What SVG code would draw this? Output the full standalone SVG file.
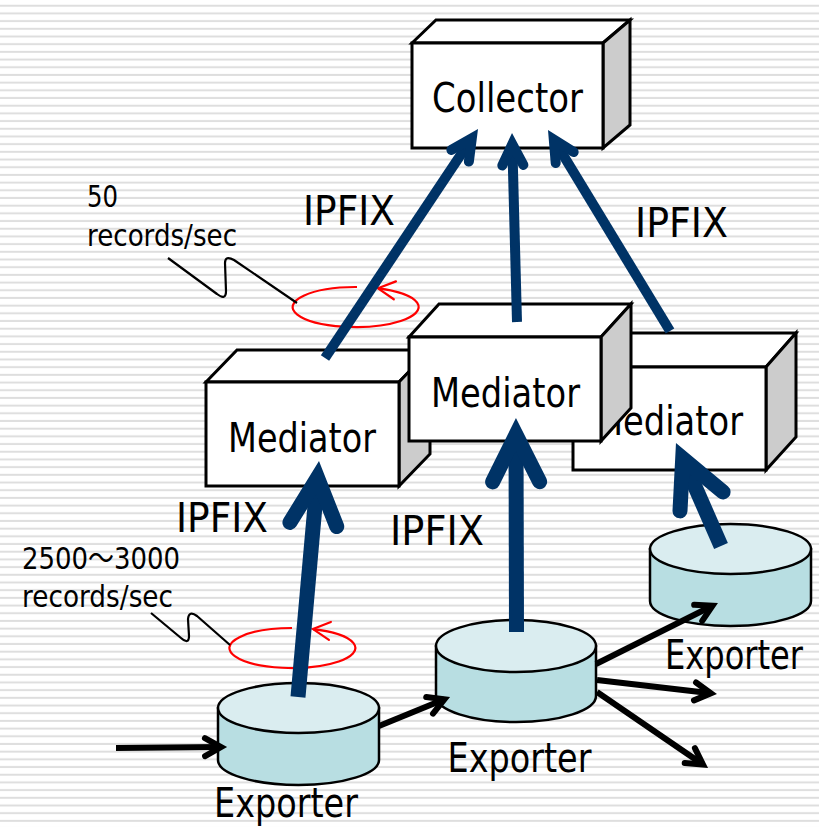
<svg xmlns="http://www.w3.org/2000/svg" width="819" height="827" viewBox="0 0 819 827">
<style>
.box{stroke:#000;stroke-width:3;stroke-linejoin:miter}
.front{fill:#fff}.top{fill:#fff}.side{fill:#cccccc}
.cylb{fill:#b8dee2;stroke:#000;stroke-width:2.5}
.cylt{fill:#daedf0;stroke:#000;stroke-width:2.5}
.lbl{font-family:"DejaVu Sans","Noto Sans CJK JP",sans-serif;fill:#000;text-anchor:middle}
.big{font-size:40px}.small{font-size:31px}
.up{fill:none;stroke:#003366;stroke-width:10;marker-end:url(#navyS)}
.low{fill:none;stroke:#003366;stroke-width:15;marker-end:url(#navyL)}
.blk{fill:none;stroke:#000;stroke-width:6;marker-end:url(#blk)}
.red{fill:none;stroke:#ff0000;stroke-width:2.2;marker-end:url(#redm)}
.sq{fill:none;stroke:#000;stroke-width:2.2;stroke-linejoin:round}
</style>
<defs>
<pattern id="stripes" width="10" height="7.69" patternUnits="userSpaceOnUse">
<rect x="0" y="4.7" width="10" height="2" fill="#dedede"/>
</pattern>
<marker id="navyS" markerUnits="userSpaceOnUse" orient="auto" refX="0" refY="0" markerWidth="1" markerHeight="1" overflow="visible">
<path d="M-21,-10.5 L0,0 L-21,10.5" fill="none" stroke="#003366" stroke-width="10" stroke-linecap="round" stroke-linejoin="miter"/>
</marker>
<marker id="navyL" markerUnits="userSpaceOnUse" orient="auto" refX="0" refY="0" markerWidth="1" markerHeight="1" overflow="visible">
<path d="M-47,-23.5 L0,0 L-47,23.5" fill="none" stroke="#003366" stroke-width="15" stroke-linecap="round" stroke-linejoin="miter"/>
</marker>
<marker id="blk" markerUnits="userSpaceOnUse" orient="auto" refX="0" refY="0" markerWidth="1" markerHeight="1" overflow="visible">
<path d="M-16,-9 L0,0 L-16,9" fill="none" stroke="#000" stroke-width="6" stroke-linecap="round" stroke-linejoin="miter"/>
</marker>
<marker id="redm" markerUnits="userSpaceOnUse" orient="auto" refX="0" refY="0" markerWidth="1" markerHeight="1" overflow="visible">
<path d="M-17,-9 L0,0 L-17,9" fill="none" stroke="#ff0000" stroke-width="2.2" stroke-linecap="round" stroke-linejoin="miter"/>
</marker>
</defs>
<rect width="819" height="827" fill="#fff"/>
<rect width="819" height="827" fill="url(#stripes)"/>

<g id="collector">
<polygon class="box top" points="412,43 436,20 630,20 603,43"/>
<polygon class="box side" points="603,43 630,20 630,125 603,148"/>
<rect class="box front" x="412" y="43" width="191" height="105"/>
<text class="lbl big" x="507.5" y="112" textLength="151" lengthAdjust="spacingAndGlyphs">Collector</text>
</g>

<g id="mediator-left">
<polygon class="box top" points="206,382 237,350 430,350 399,382"/>
<polygon class="box side" points="399,382 430,350 430,454 399,486"/>
<rect class="box front" x="206" y="382" width="193" height="104"/>
<text class="lbl big" x="302" y="452" textLength="148" lengthAdjust="spacingAndGlyphs">Mediator</text>
</g>

<g id="mediator-right">
<polygon class="box top" points="573,367 603,333 796,333 766,367"/>
<polygon class="box side" points="766,367 796,333 796,437 766,470"/>
<rect class="box front" x="573" y="367" width="193" height="103"/>
<text class="lbl big" x="668.5" y="435" textLength="149" lengthAdjust="spacingAndGlyphs">Mediator</text>
</g>

<g id="mediator-middle">
<polygon class="box top" points="409,337 439,304 631,304 601,337"/>
<polygon class="box side" points="601,337 631,304 631,408 601,441"/>
<rect class="box front" x="409" y="337" width="192" height="104"/>
<text class="lbl big" x="505.5" y="407" textLength="149" lengthAdjust="spacingAndGlyphs">Mediator</text>
</g>

<g id="exporter-left">
<path class="cylb" d="M218,708 L218,760 A80.5,25 0 0 0 379,760 L379,708 Z"/>
<ellipse class="cylt" cx="298.5" cy="708" rx="80.5" ry="25"/>
<text class="lbl big" x="286" y="817" textLength="144" lengthAdjust="spacingAndGlyphs">Exporter</text>
</g>

<g id="exporter-middle">
<path class="cylb" d="M436,646 L436,696 A80,26 0 0 0 596,696 L596,646 Z"/>
<ellipse class="cylt" cx="516" cy="646" rx="80" ry="26"/>
<text class="lbl big" x="519.5" y="772" textLength="144" lengthAdjust="spacingAndGlyphs">Exporter</text>
</g>

<g id="exporter-right">
<path class="cylb" d="M650,549 L650,601 A80.5,25 0 0 0 811,601 L811,549 Z"/>
<ellipse class="cylt" cx="730.5" cy="549" rx="80.5" ry="25"/>
<text class="lbl big" x="734" y="669" textLength="138" lengthAdjust="spacingAndGlyphs">Exporter</text>
</g>

<g id="annotations">
<path class="red" d="M357,287 A63,20 0 1 0 378,288.3"/>
<path class="red" d="M292,628 A63,20 0 1 0 313,629.1"/>
<path class="sq" d="M168,258 L217,294 Q226,301 226,291 L225,263 Q225,255 234,260 L297,303"/>
<path class="sq" d="M151,613 L181,638 Q189,645 189,636 L188,619 Q189,610 197,616 L230,645"/>
<text class="lbl small" x="87" y="207" style="text-anchor:start" textLength="31" lengthAdjust="spacingAndGlyphs">50</text>
<text class="lbl small" x="87" y="246" style="text-anchor:start" textLength="150" lengthAdjust="spacingAndGlyphs">records/sec</text>
<text class="lbl small" x="22" y="569" style="text-anchor:start" textLength="158" lengthAdjust="spacingAndGlyphs">2500～3000</text>
<text class="lbl small" x="22" y="607" style="text-anchor:start" textLength="151" lengthAdjust="spacingAndGlyphs">records/sec</text>
</g>

<g id="connectors">
<line class="up" x1="325" y1="358" x2="471.8" y2="138.3"/>
<line class="up" x1="517" y1="322" x2="512.3" y2="144.2"/>
<line class="up" x1="670" y1="331" x2="553.8" y2="139.6"/>
<line class="low" x1="298" y1="697" x2="317.5" y2="477.7"/>
<line class="low" x1="516.5" y1="632" x2="516" y2="434.8"/>
<line class="low" x1="721" y1="546" x2="682.7" y2="458.4"/>
<line class="blk" x1="116" y1="748" x2="221" y2="747"/>
<line class="blk" x1="379" y1="726" x2="444.4" y2="699.3"/>
<line class="blk" x1="596" y1="664" x2="712.5" y2="605.7"/>
<line class="blk" x1="597" y1="680" x2="710.9" y2="693.3"/>
<line class="blk" x1="597" y1="692" x2="703" y2="764.6"/>
<text class="lbl big" x="349" y="225" textLength="92" lengthAdjust="spacingAndGlyphs">IPFIX</text>
<text class="lbl big" x="681.5" y="237" textLength="93" lengthAdjust="spacingAndGlyphs">IPFIX</text>
<text class="lbl big" x="222" y="532" textLength="92" lengthAdjust="spacingAndGlyphs">IPFIX</text>
<text class="lbl big" x="437" y="545" textLength="94" lengthAdjust="spacingAndGlyphs">IPFIX</text>
</g>
</svg>
